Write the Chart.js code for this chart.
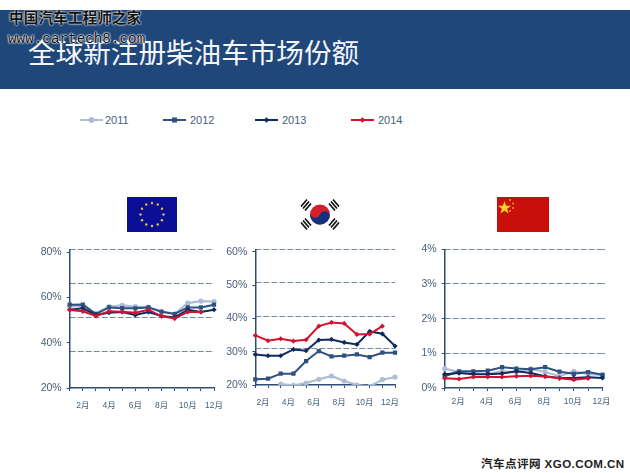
<!DOCTYPE html>
<html>
<head>
<meta charset="utf-8">
<script src="https://cdn.jsdelivr.net/npm/chart.js@4"></script>
<style>
  html, body { margin: 0; padding: 0; background: #fff; }
  body { width: 630px; height: 473px; position: relative; overflow: hidden; font-family: "Liberation Sans", "Noto Sans CJK SC", sans-serif; }
  #header { position: absolute; left: 0; top: 10px; width: 630px; height: 79px; background: #1f477a; }
  #title { position: absolute; left: 28px; top: 33px; font-size: 27.6px; line-height: 36px; color: #f4f6fa; font-family: "Noto Sans CJK SC", sans-serif; white-space: nowrap; }
  #wm1 { position: absolute; left: 9px; top: 7px; font-size: 14.7px; line-height: 20px; font-weight: 700; color: #111; font-family: "Noto Sans CJK SC", sans-serif; white-space: nowrap; text-shadow: 0 0 2px #fff, 0 0 2px #fff; }
  #wm2 { position: absolute; left: 8px; top: 31px; font-size: 14.3px; line-height: 16px; color: #111; font-family: "Liberation Mono", monospace; white-space: nowrap; text-shadow: 0 0 2px #fff, 0 0 2px #fff, 0 0 1px #fff; }
  #footer { position: absolute; left: 481px; top: 456px; font-size: 11.6px; line-height: 16px; letter-spacing: .4px; color: #222; white-space: nowrap; font-weight: 700; }
  .legend-item { position: absolute; top: 111px; height: 18px; }
  .legend-item span { position: absolute; top: 2px; font-size: 11px; line-height: 14px; color: #48607e; }
  .legend-item svg { position: absolute; left: 0; top: 4px; }
  canvas { position: absolute; }
  .flag { position: absolute; top: 197px; }
</style>
</head>
<body>
<div id="header"></div>
<div id="title">全球新注册柴油车市场份额</div>
<div id="wm1">中国汽车工程师之家</div>
<div id="wm2">www.cartech8.com</div>
<div id="legend"></div>

<svg class="flag" style="left:127px" width="50" height="35" viewBox="0 0 50 35" id="flagEu"><rect width="50" height="35" fill="#0b0f96"/></svg>

<svg class="flag" style="left:298px;top:196px" width="44" height="37" viewBox="-22 -18.5 44 37">
  <g stroke="#111" stroke-width="1.7">
    <path d="M-19 -8 L-13 -15 M-17 -6 L-11 -13 M-15 -4 L-9 -11"/>
    <path d="M19 -8 L13 -15 M17 -6 L11 -13 M15 -4 L9 -11"/>
    <path d="M-19 8 L-13 15 M-17 6 L-11 13 M-15 4 L-9 11"/>
    <path d="M19 8 L13 15 M17 6 L11 13 M15 4 L9 11"/>
  </g>
  <circle r="10" fill="#d5202a"/>
  <path d="M-10 0 A10 10 0 0 0 10 0 A5 5 0 0 0 0 0 A5 5 0 0 1 -10 0Z" fill="#14307f" transform="rotate(20)"/>
</svg>

<svg class="flag" style="left:497px" width="52" height="35" viewBox="0 0 52 35">
  <rect width="52" height="35" fill="#c80f0a"/>
  <polygon points="7,4.5 8.6,9.3 13.6,9.3 9.6,12.3 11.1,17 7,14.1 2.9,17 4.4,12.3 0.4,9.3 5.4,9.3" transform="translate(0.5,-0.5)" fill="#ffd21e"/>
  <g fill="#f0a020"><circle cx="13" cy="3" r="1"/><circle cx="16" cy="6.5" r="1"/><circle cx="16" cy="11" r="1"/><circle cx="13" cy="14" r="1"/></g>
</svg>

<canvas id="euChart" style="left:30px;top:238px" width="203" height="177"></canvas>
<canvas id="krChart" style="left:220px;top:238px" width="194" height="177"></canvas>
<canvas id="cnChart" style="left:405px;top:238px" width="215" height="177"></canvas>

<div id="footer">汽车点评网 XGO.COM.CN</div>

<script>
const years = ["2011", "2012", "2013", "2014"]
const months = ["", "2月", "", "4月", "", "6月", "", "8月", "", "10月", "", "12月"]

const eu2011 = [56, 56.3, 53, 56, 56.5, 56, 55.8, 53.9, 52.8, 57.5, 58.4, 58.2]
const eu2012 = [56.8, 56.9, 52.7, 55.6, 55.3, 55.2, 55.6, 53.7, 52.7, 55.6, 55.6, 56.8]
const eu2013 = [54.6, 55.2, 52.3, 53.3, 53.6, 52.3, 53.6, 51.8, 51.2, 54.6, 53.6, 54.6]
const eu2014 = [54.5, 53.9, 51.8, 53.9, 53.7, 53.3, 54.6, 51.7, 50.7, 53.6, 53.6]

const kr2011 = [null, null, 20.3, 19.9, 20.6, 21.7, 22.7, 21.2, 20, 19.6, 21.6, 22.4]
const kr2012 = [21.7, 21.9, 23.4, 23.4, 27.2, 30.2, 28.6, 28.8, 29.2, 28.4, 29.7, 29.7]
const kr2013 = [29.2, 28.8, 28.8, 30.7, 30.3, 33.5, 33.7, 32.8, 32.2, 36.1, 35.4, 31.7]
const kr2014 = [34.9, 33.3, 33.9, 33.2, 33.6, 37.7, 38.8, 38.5, 35.2, 35.3, 37.7]

const cn2011 = [0.56, 0.46, 0.43, 0.41, 0.48, 0.46, 0.55, 0.46, 0.34, 0.48, 0.4, 0.38]
const cn2012 = [0.34, 0.48, 0.48, 0.5, 0.6, 0.56, 0.54, 0.6, 0.47, 0.41, 0.46, 0.38]
const cn2013 = [0.4, 0.43, 0.4, 0.4, 0.42, 0.48, 0.43, 0.34, 0.29, 0.29, 0.31, 0.29]
const cn2014 = [0.28, 0.26, 0.32, 0.32, 0.32, 0.34, 0.35, 0.33, 0.28, 0.24, 0.28]

const euTicks = [20, 40, 60, 80]
const krTicks = [20, 30, 40, 50, 60]
const cnTicks = [0, 1, 2, 3, 4]

// the dashed lines do not sit on the tick marks in the original
const euGrid = [36.2, 51.2, 66.3, 81.2]
const krGrid = [30.9, 40.7, 50.8, 60.8]
const cnGrid = [1, 2, 3, 4]

const colors = ["#aebdd6", "#2f5180", "#0f2b5e", "#d3122f"]
const markers = ["circle", "rect", "rectRot", "rectRot"]
const axisColor = "#2c4c78"
const textColor = "#48607e"
const fontFamily = '"Liberation Sans", "Noto Sans CJK SC", sans-serif'

function datasets(series) {
  return series.map((data, i) => ({
    label: years[i],
    data,
    order: series.length - i,
    borderColor: colors[i],
    backgroundColor: colors[i],
    borderWidth: i === 0 ? 2.2 : 2,
    pointStyle: markers[i],
    pointRadius: i === 1 ? 3 : 2.6,
    pointBorderWidth: 0,
    tension: 0
  }))
}

function drawChart(id, series, opts) {
  return new Chart(document.getElementById(id), {
    type: "line",
    data: { labels: months, datasets: datasets(series) },
    options: {
      animation: false,
      responsive: false,
      layout: { padding: { top: 9, right: opts.right } },
      plugins: { legend: { display: false }, tooltip: { enabled: false } },
      scales: {
        x: {
          afterFit: (s) => { s.height = opts.bottom },
          border: { color: axisColor, width: 1.5 },
          grid: { drawOnChartArea: false, color: axisColor, tickLength: 3 },
          ticks: {
            autoSkip: false, maxRotation: 0, padding: opts.labelPad, color: textColor,
            labelOffset: opts.labelOffset,
            font: { size: 8.5, family: fontFamily }
          }
        },
        y: {
          min: opts.min,
          max: opts.max,
          afterFit: (s) => { s.width = opts.left },
          afterBuildTicks: (s) => { s.ticks = opts.ticks.map(value => ({ value })) },
          border: { color: axisColor, width: 1.5 },
          grid: { drawOnChartArea: false, color: axisColor, tickLength: 3 },
          ticks: {
            padding: 5, color: textColor,
            callback: (v) => `${v}%`,
            font: { size: 10.5, family: fontFamily }
          }
        },
        y2: {
          position: "right",
          min: opts.min,
          max: opts.max,
          afterFit: (s) => { s.width = opts.gridTail },
          afterBuildTicks: (s) => { s.ticks = opts.grid.map(value => ({ value })) },
          border: { display: false, dash: [6, 2] },
          grid: {
            color: "#75899f", lineWidth: 1, tickLength: opts.gridTail,
            tickColor: "#75899f", tickBorderDash: [6, 2], tickWidth: 1
          },
          ticks: { display: false }
        }
      }
    }
  })
}

drawChart("euChart", [eu2011, eu2012, eu2013, eu2014], {
  min: 20, max: 81.3, ticks: euTicks, grid: euGrid,
  left: 39.7, right: 12, bottom: 27, gridTail: 0, labelOffset: 0, labelPad: 10
})
drawChart("krChart", [kr2011, kr2012, kr2013, kr2014], {
  min: 20, max: 60.8, ticks: krTicks, grid: krGrid,
  left: 35.3, right: 9, bottom: 30, gridTail: 0, labelOffset: -5, labelPad: 10
})
drawChart("cnChart", [cn2011, cn2012, cn2013, cn2014], {
  min: 0, max: 4, ticks: cnTicks, grid: cnGrid,
  left: 39.7, right: 15, bottom: 27, gridTail: 2.5, labelOffset: -1, labelPad: 6
})

// shared legend above the three panels
const legendLeft = [80, 163, 255, 351]
const legendTextLeft = [25, 27, 27, 27]
const legendBox = document.getElementById("legend")
years.forEach((year, i) => {
  const item = document.createElement("div")
  item.className = "legend-item"
  item.style.left = legendLeft[i] + "px"
  const mark = markers[i] === "circle"
    ? `<circle cx="11.5" cy="5" r="3" fill="${colors[i]}"/>`
    : markers[i] === "rect"
      ? `<rect x="9" y="2.5" width="5" height="5" fill="${colors[i]}"/>`
      : `<rect x="9.5" y="3" width="4" height="4" fill="${colors[i]}" transform="rotate(45 11.5 5)"/>`
  item.innerHTML = `<svg width="24" height="10"><line x1="0" y1="5" x2="23" y2="5" stroke="${colors[i]}" stroke-width="2"/>${mark}</svg><span style="left:${legendTextLeft[i]}px">${year}</span>`
  legendBox.appendChild(item)
})

// ring of twelve stars on the EU flag
const flagEu = document.getElementById("flagEu")
for (let k = 0; k < 12; k++) {
  const a = k * Math.PI / 6
  const star = document.createElementNS("http://www.w3.org/2000/svg", "circle")
  star.setAttribute("cx", 25 + 11.5 * Math.cos(a))
  star.setAttribute("cy", 17.5 + 11.5 * Math.sin(a))
  star.setAttribute("r", 1.2)
  star.setAttribute("fill", "#d8c24a")
  flagEu.appendChild(star)
}
</script>
</body>
</html>
